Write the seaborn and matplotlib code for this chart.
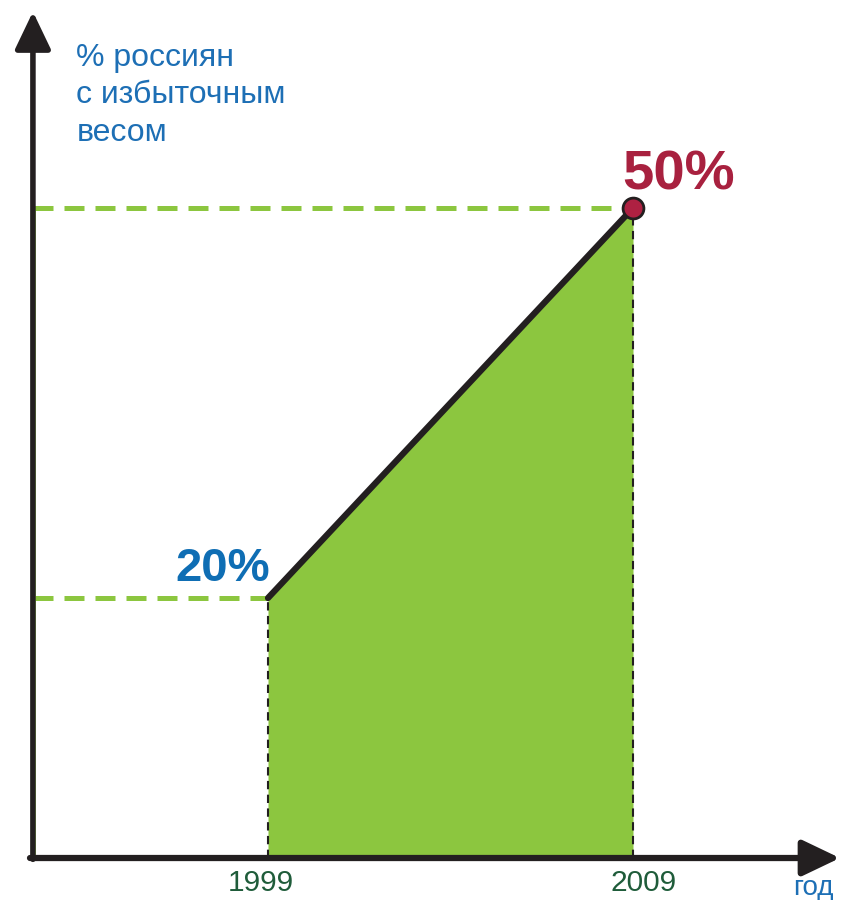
import matplotlib
matplotlib.use("Agg")
import matplotlib.pyplot as plt
import seaborn as sns
import pandas as pd

years = [1999, 2009]
share = [20, 50]
point_labels = ["20%", "50%"]
y_title = "% россиян\nс избыточным\nвесом"
x_title = "год"

df = pd.DataFrame({"year": years, "share": share})

sns.set_theme(style="white")
plt.rcParams["font.family"] = ["Liberation Sans", "DejaVu Sans"]

fig = plt.figure(figsize=(8.42, 9), dpi=100)
ax = fig.add_axes([0, 0, 1, 1])
ax.set_xlim(1991.658, 2014.726)
ax.set_ylim(-3.23, 66.0)
ax.axis("off")

GREEN = "#8CC63F"
AXIS = "#231F20"
x0 = 1992.56  # y-axis position
y0 = 0.0

# filled area
ax.fill_between(df["year"], 0, df["share"], color=GREEN, lw=0, zorder=1)

# green dashed guides
for yr, v in zip(years, share):
    ax.plot([x0, yr], [v, v], color=GREEN, lw=3.6, dashes=(4, 2.2), zorder=2,
            solid_capstyle="butt", dash_capstyle="butt")
    ax.plot([yr, yr], [0, v], color=AXIS, lw=1.5, dashes=(4, 2.6), zorder=3)
# faint green dashed guide along the y axis
ax.plot([x0 + 0.05, x0 + 0.05], [0, share[-1]], color=GREEN, lw=1.2, zorder=2)

# main line
sns.lineplot(data=df, x="year", y="share", color=AXIS, lw=4.5, ax=ax, zorder=4,
             legend=False)
ax.plot(years[-1], share[-1], "o", ms=15, mfc="#AE2142", mec=AXIS, mew=2, zorder=5)

# axes with arrows
ax.annotate("", xy=(2014.67, y0), xytext=(x0 - 0.08, y0),
            arrowprops=dict(arrowstyle="-|>,head_length=1.15,head_width=0.55",
                            lw=4.5, color=AXIS, mutation_scale=20,
                            shrinkA=0, shrinkB=0), zorder=6)
ax.annotate("", xy=(x0, 65.1), xytext=(x0, y0 - 0.1),
            arrowprops=dict(arrowstyle="-|>,head_length=1.15,head_width=0.55",
                            lw=4.0, color=AXIS, mutation_scale=20,
                            shrinkA=0, shrinkB=0), zorder=6)

# labels
ax.text(1993.75, 62.7, y_title, color="#1D6FB5", fontsize=23, ha="left", va="top",
        linespacing=1.32)
ax.text(years[0] - 1.25, share[0] + 2.2, point_labels[0], color="#0F6EB4",
        fontsize=34, fontweight="bold", ha="center", va="center")
ax.text(years[1] + 1.25, share[1] + 2.5, point_labels[1], color="#A8213F",
        fontsize=40.5, fontweight="bold", ha="center", va="center")
for yr in years:
    ax.text(yr - 0.2 if yr == years[0] else yr + 0.3, -1.9, str(yr), color="#1F5C3A",
            fontsize=21.5, ha="center", va="center")
ax.text(2013.4, -2.3, x_title, color="#1D6FB5", fontsize=20, ha="left", va="center")

fig.savefig("out.png", dpi=100)
